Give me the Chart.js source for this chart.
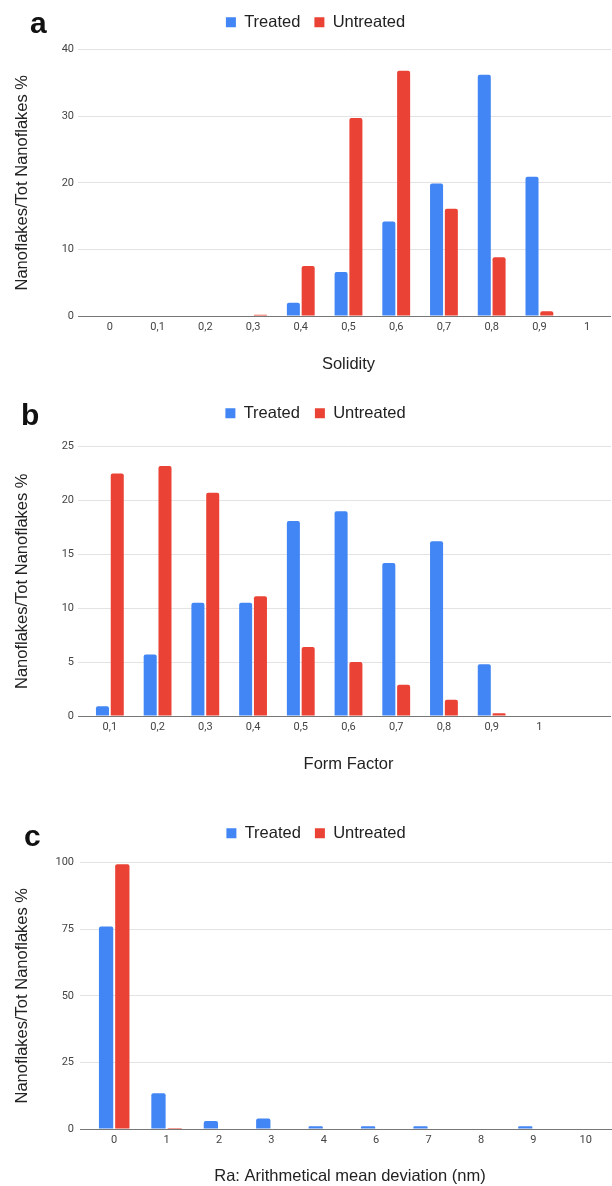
<!DOCTYPE html>
<html>
<head>
<meta charset="utf-8">
<script src="https://cdn.jsdelivr.net/npm/chart.js@4.4.0/dist/chart.umd.min.js"></script>
<style>
  body { margin: 0; background: #fff; }
  #page { position: relative; width: 612px; height: 1186px; overflow: hidden; }
  .panel { position: absolute; left: 0; }
  .letter { position: absolute; font: bold 30px Arial, "Liberation Sans", sans-serif; line-height: 30px; color: #111; }
</style>
</head>
<body>
<div id="page">
  <canvas id="chartA" class="panel" width="612" height="390" style="top:0"></canvas>
  <canvas id="chartB" class="panel" width="612" height="410" style="top:390px"></canvas>
  <canvas id="chartC" class="panel" width="612" height="375" style="top:811px"></canvas>
  <div class="letter" style="left:30px;top:8px">a</div>
  <div class="letter" style="left:21px;top:400px">b</div>
  <div class="letter" style="left:24px;top:821px">c</div>
</div>
<script>
// a: solidity
const solidityLabels = ['0', '0,1', '0,2', '0,3', '0,4', '0,5', '0,6', '0,7', '0,8', '0,9', '1'];
const solidityTreated = [0, 0, 0, 0, 2.0, 6.6, 14.2, 19.9, 36.2, 20.9, 0];
const solidityUntreated = [0, 0, 0, 0.2, 7.5, 29.7, 36.8, 16.1, 8.8, 0.7, 0];

// b: form factor (last slot has no label)
const formLabels = ['0,1', '0,2', '0,3', '0,4', '0,5', '0,6', '0,7', '0,8', '0,9', '1', ''];
const formTreated = [0.9, 5.7, 10.5, 10.5, 18.1, 19.0, 14.2, 16.2, 4.8, 0, 0];
const formUntreated = [22.5, 23.2, 20.7, 11.1, 6.4, 5.0, 2.9, 1.5, 0.25, 0, 0];

// c: roughness Ra (no 5 bin)
const raLabels = ['0', '1', '2', '3', '4', '6', '7', '8', '9', '10'];
const raTreated = [76, 13.4, 3, 3.9, 1, 1, 1, 0, 1, 0];
const raUntreated = [99.3, 0.4, 0, 0, 0, 0, 0, 0, 0, 0];

const BLUE = '#4285F4';
const RED = '#EA4335';
const TEXT_FONT = 'Arial, "Liberation Sans", sans-serif';
const TICK_FONT = 'Roboto, "Liberation Sans", sans-serif';

// adds extra space under the legend and nudges it sideways
function legendTweak(gap, shift) {
    return {
        id: 'legendTweak',
        beforeInit(chart) {
            const fit = chart.legend.fit;
            chart.legend.fit = function () {
                fit.call(this);
                this.height += gap;
            };
        },
        afterLayout(chart) {
            chart.legend.left += shift;
            chart.legend.right += shift;
        }
    };
}

function makeChart(id, labels, treated, untreated, o) {
    const ctx = document.getElementById(id).getContext('2d');
    const bar = {
        borderWidth: 0,
        borderRadius: { topLeft: 2, topRight: 2, bottomLeft: 0, bottomRight: 0 },
        borderSkipped: 'start',
        categoryPercentage: 0.62,
        barPercentage: 0.88
    };
    return new Chart(ctx, {
        type: 'bar',
        data: {
            labels: labels,
            datasets: [
                Object.assign({ label: 'Treated', data: treated, backgroundColor: BLUE }, bar),
                Object.assign({ label: 'Untreated', data: untreated, backgroundColor: RED }, bar)
            ]
        },
        options: {
            responsive: false,
            animation: false,
            events: [],
            layout: { padding: { top: 0, right: o.padRight, bottom: 0, left: 0 } },
            plugins: {
                tooltip: { enabled: false },
                legend: {
                    position: 'top',
                    labels: {
                        boxWidth: 10,
                        boxHeight: 10,
                        padding: o.legendPad,
                        color: '#222',
                        font: { family: TEXT_FONT, size: 16.5 }
                    }
                }
            },
            scales: {
                x: {
                    grid: { display: false, drawTicks: false },
                    border: { display: false },
                    ticks: { color: '#444', padding: 5, font: { family: TICK_FONT, size: 11 } },
                    title: {
                        display: true,
                        text: o.xTitle,
                        color: '#222',
                        font: { family: TEXT_FONT, size: 16.5 },
                        padding: { top: 0, bottom: o.titlePadBottom }
                    },
                    afterFit: s => { s.height = o.xHeight; }
                },
                y: {
                    min: 0,
                    max: o.yMax,
                    border: { display: false },
                    grid: {
                        color: c => (c.tick && c.tick.value === 0 ? '#777' : '#e3e3e3'),
                        lineWidth: 1,
                        tickLength: 8
                    },
                    ticks: { stepSize: o.yStep, color: '#444', padding: o.tickPad, font: { family: TICK_FONT, size: 11 } },
                    title: {
                        display: true,
                        text: 'Nanoflakes/Tot Nanoflakes %',
                        color: '#222',
                        font: { family: TEXT_FONT, size: 16.5 },
                        padding: { top: 13, bottom: 0 }
                    },
                    afterFit: s => { s.width = o.axisLeft; }
                }
            }
        },
        plugins: [legendTweak(o.legendGap, 10)]
    });
}

makeChart('chartA', solidityLabels, solidityTreated, solidityUntreated, {
    xTitle: 'Solidity', yMax: 40, yStep: 10,
    axisLeft: 86, padRight: 1, tickPad: 4,
    legendPad: 14, legendGap: 9, xHeight: 74, titlePadBottom: 16
});

makeChart('chartB', formLabels, formTreated, formUntreated, {
    xTitle: 'Form Factor', yMax: 25, yStep: 5,
    axisLeft: 86, padRight: 1, tickPad: 4,
    legendPad: 15, legendGap: 15, xHeight: 84, titlePadBottom: 26
});

makeChart('chartC', raLabels, raTreated, raUntreated, {
    xTitle: 'Ra: Arithmetical mean deviation (nm)', yMax: 100, yStep: 25,
    axisLeft: 88, padRight: 0, tickPad: 6,
    legendPad: 14, legendGap: 11, xHeight: 57, titlePadBottom: 0
});
</script>
</body>
</html>
